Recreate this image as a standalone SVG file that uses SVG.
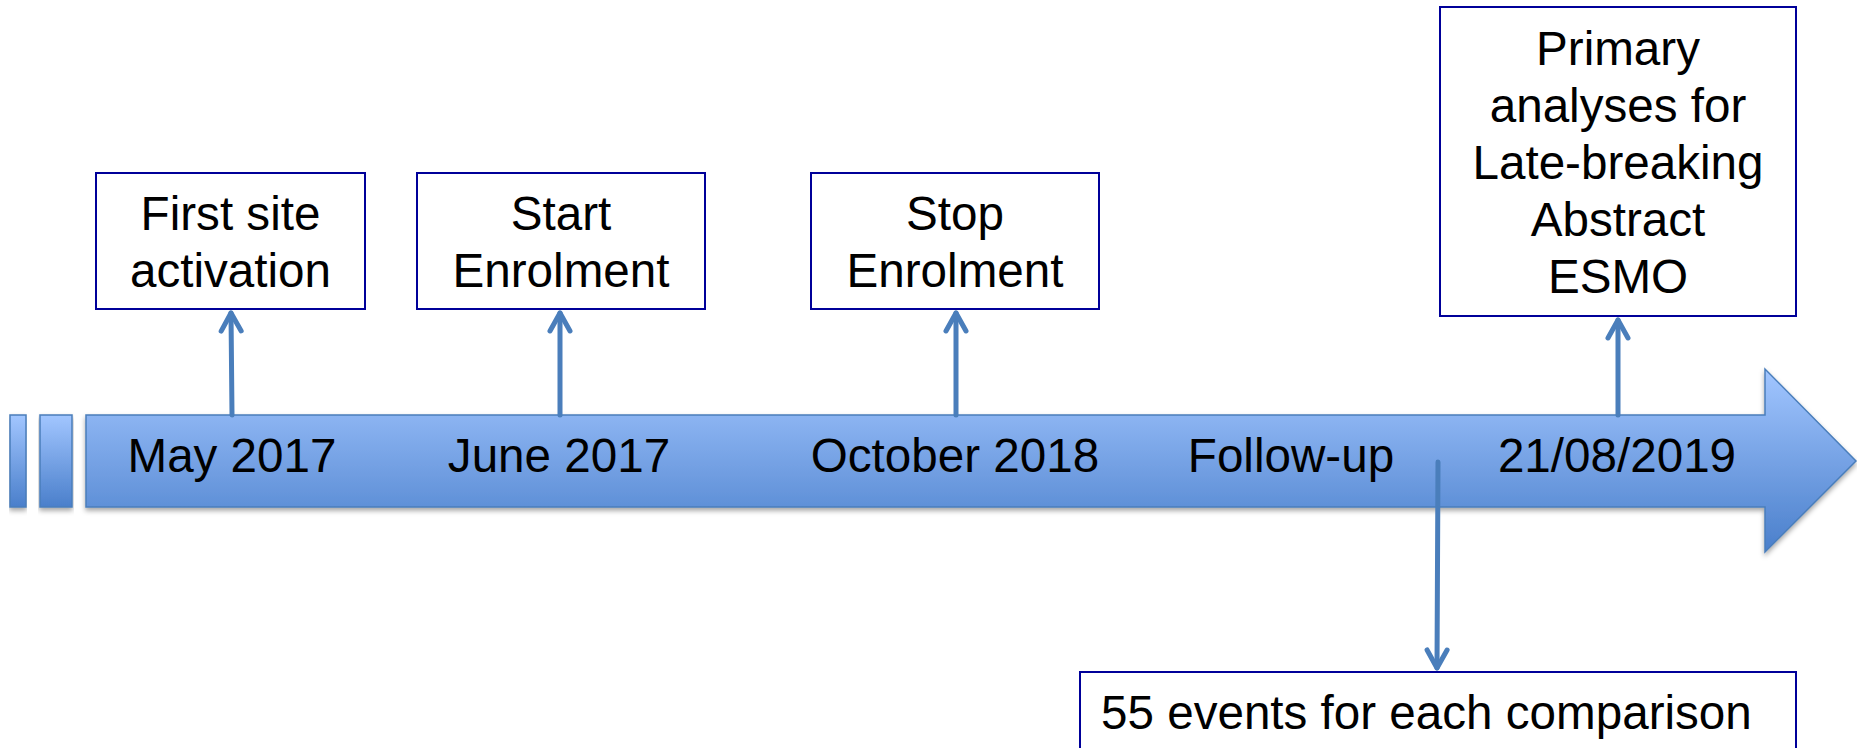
<svg xmlns="http://www.w3.org/2000/svg" width="1857" height="748" viewBox="0 0 1857 748">
<style>
.box{fill:#ffffff;stroke:#000099;stroke-width:2}
.t{font-family:"Liberation Sans",Arial,sans-serif;font-size:47.6px;fill:#000000}
.c{text-anchor:middle}
.conn{fill:none;stroke:#4A7EBB;stroke-width:5;stroke-linecap:round}
.bar{fill:url(#g);stroke:#4A7EBB;stroke-width:1.5;filter:url(#sh)}
</style>
<defs>
<linearGradient id="g" x1="0" y1="0" x2="0" y2="1">
<stop offset="0" stop-color="#A2C6FF"/>
<stop offset="1" stop-color="#4A7FCB"/>
</linearGradient>
<filter id="sh" x="-5%" y="-20%" width="110%" height="150%">
<feDropShadow dx="0" dy="3" stdDeviation="2.5" flood-color="#000000" flood-opacity="0.35"/>
</filter>
<marker id="ah" markerUnits="userSpaceOnUse" viewBox="-24 -14 28 28" refX="0" refY="0" markerWidth="28" markerHeight="28" orient="auto">
<path d="M-18,-10 L0,0 L-18,10" fill="none" stroke="#4A7EBB" stroke-width="5" stroke-linecap="round" stroke-linejoin="round"/>
</marker>
</defs>
<g id="timeline">
<rect class="bar" x="10" y="415" width="16" height="92"/>
<rect class="bar" x="40" y="415" width="32" height="92"/>
<path class="bar" d="M86,415 L1765,415 L1765,369 L1856,461 L1765,552 L1765,507 L86,507 Z"/>
<text class="t c" x="232" y="472">May 2017</text>
<text class="t c" x="559" y="472">June 2017</text>
<text class="t c" x="955" y="472">October 2018</text>
<text class="t c" x="1291" y="472">Follow-up</text>
<text class="t c" x="1617" y="472">21/08/2019</text>
</g>
<g id="node-first-site">
<rect class="box" x="96" y="173" width="269" height="136"/>
<text class="t c" x="230.5" y="230">First site</text>
<text class="t c" x="230.5" y="287">activation</text>
</g>
<g id="node-start">
<rect class="box" x="417" y="173" width="288" height="136"/>
<text class="t c" x="561" y="230">Start</text>
<text class="t c" x="561" y="287">Enrolment</text>
</g>
<g id="node-stop">
<rect class="box" x="811" y="173" width="288" height="136"/>
<text class="t c" x="955" y="230">Stop</text>
<text class="t c" x="955" y="287">Enrolment</text>
</g>
<g id="node-primary">
<rect class="box" x="1440" y="7" width="356" height="309"/>
<text class="t c" x="1618" y="65">Primary</text>
<text class="t c" x="1618" y="122">analyses for</text>
<text class="t c" x="1618" y="179">Late-breaking</text>
<text class="t c" x="1618" y="236">Abstract</text>
<text class="t c" x="1618" y="293">ESMO</text>
</g>
<g id="node-events">
<rect class="box" x="1080" y="672" width="716" height="100"/>
<text class="t" x="1101" y="729">55 events for each comparison</text>
</g>
<g id="connectors">
<line class="conn" x1="232" y1="415" x2="231" y2="313" marker-end="url(#ah)"/>
<line class="conn" x1="560" y1="415" x2="560" y2="313" marker-end="url(#ah)"/>
<line class="conn" x1="956" y1="415" x2="956" y2="313" marker-end="url(#ah)"/>
<line class="conn" x1="1618" y1="415" x2="1618" y2="320" marker-end="url(#ah)"/>
<line class="conn" x1="1438" y1="462" x2="1437" y2="668" marker-end="url(#ah)"/>
</g>
</svg>
